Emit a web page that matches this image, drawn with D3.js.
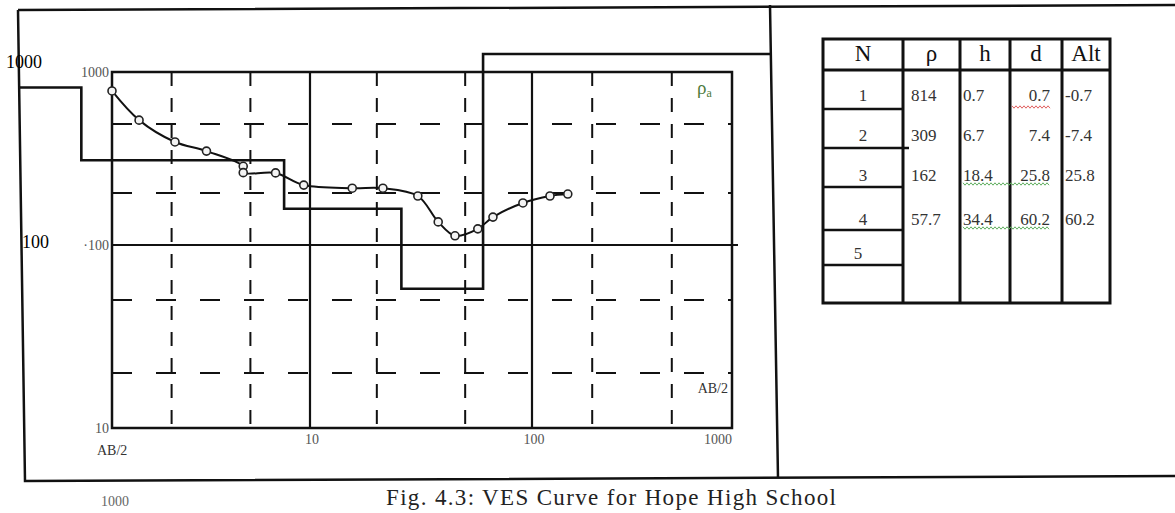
<!DOCTYPE html>
<html>
<head>
<meta charset="utf-8">
<script src="https://cdn.jsdelivr.net/npm/d3@7"></script>
<style>
  body { margin: 0; background: #fff; }
  svg { display: block; font-family: "Liberation Serif", "Times New Roman", serif; }
</style>
</head>
<body>
<svg width="1175" height="513"></svg>
<script>
const abHalf = [1.0, 1.37, 2.08, 3.0, 4.6, 4.6, 6.7, 9.3, 15.5, 21.3, 30.6, 37.8, 45, 57, 66.7, 91, 123, 151];
const rhoA   = [777, 527, 394, 349, 285, 262, 261, 222, 213, 213, 192, 136, 113, 124, 145, 175, 192, 197];

// interpreted layers (table)
const layerN   = ["1", "2", "3", "4", "5"];
const layerRho = ["814", "309", "162", "57.7"];
const layerH   = ["0.7", "6.7", "18.4", "34.4"];
const layerD   = ["0.7", "7.4", "25.8", "60.2"];
const layerAlt = ["-0.7", "-7.4", "25.8", "60.2"];
const lastRho  = 1270; // half-space, off the top of the chart

// grid
const dashX  = [2, 5, 20, 50, 200, 500];
const solidX = [10, 100];
const dashY  = [20, 50, 200, 500];
const solidY = [100];
const xTicks = [10, 100, 1000];
const yTicks = [1000, 100, 10];

const svg = d3.select("svg");

// hand-drawn decades are uneven, so piecewise log scales
const x = d3.scaleLog().domain([1, 10, 100, 1000]).range([112, 310, 532, 732]);
const y = d3.scaleLog().domain([10, 100, 1000]).range([428, 245, 72]);

const ink = "#111";

// outer figure frame and panel divider
svg.append("path")
    .attr("d", "M18,10 L1175,5 M18,10 L25,481 L1175,476 M770,5 L778,478")
    .attr("fill", "none").attr("stroke", ink).attr("stroke-width", 2.5);

const g = svg.append("g");

// dashed grid
g.selectAll(".dx").data(dashX).enter().append("line")
    .attr("x1", d => x(d)).attr("x2", d => x(d))
    .attr("y1", y(1000)).attr("y2", y(10))
    .attr("stroke", ink).attr("stroke-width", 2).attr("stroke-dasharray", "14,12");

g.selectAll(".dy").data(dashY).enter().append("line")
    .attr("x1", x(1)).attr("x2", x(1000))
    .attr("y1", d => y(d)).attr("y2", d => y(d))
    .attr("stroke", ink).attr("stroke-width", 2).attr("stroke-dasharray", "20,24");

// solid decade lines
g.selectAll(".sx").data(solidX).enter().append("line")
    .attr("x1", d => x(d)).attr("x2", d => x(d))
    .attr("y1", y(1000)).attr("y2", y(10))
    .attr("stroke", ink).attr("stroke-width", 2.2);

g.selectAll(".sy").data(solidY).enter().append("line")
    .attr("x1", x(1)).attr("x2", x(1000) + 6)
    .attr("y1", d => y(d)).attr("y2", d => y(d))
    .attr("stroke", ink).attr("stroke-width", 2.2);

// plot frame
g.append("rect")
    .attr("x", x(1)).attr("y", y(1000))
    .attr("width", x(1000) - x(1)).attr("height", y(10) - y(1000))
    .attr("fill", "none").attr("stroke", ink).attr("stroke-width", 2.5);

// layered model as a step line
const rhoNum = layerRho.map(Number).concat([lastRho]);
const depNum = layerD.map(Number);
let stepPts = [[18, y(rhoNum[0])]];
depNum.forEach((d, i) => {
    stepPts.push([x(d), y(rhoNum[i])]);
    stepPts.push([x(d), y(rhoNum[i + 1])]);
});
stepPts.push([771, y(lastRho)]);
g.append("path")
    .attr("d", d3.line()(stepPts))
    .attr("fill", "none").attr("stroke", ink).attr("stroke-width", 2.6);

// field curve
const pts = abHalf.map((a, i) => [x(a), y(rhoA[i])]);
g.append("path")
    .attr("d", d3.line().curve(d3.curveCatmullRom.alpha(0.5))(pts))
    .attr("fill", "none").attr("stroke", ink).attr("stroke-width", 2);

g.selectAll(".pt").data(pts).enter().append("circle")
    .attr("cx", d => d[0]).attr("cy", d => d[1]).attr("r", 4)
    .attr("fill", "#f4f4f4").attr("stroke", "#222").attr("stroke-width", 1.6);

// small axis labels
const tickCol = "#555";
g.selectAll(".yt").data(yTicks).enter().append("text")
    .attr("x", x(1) - 3).attr("y", d => y(d) + 5)
    .attr("text-anchor", "end").attr("font-size", 14).attr("fill", tickCol)
    .text(d => d === 100 ? "\u00b7" + d : d);

g.selectAll(".xt").data(xTicks).enter().append("text")
    .attr("x", d => d === 1000 ? x(d) - 14 : x(d) + 2).attr("y", y(10) + 16)
    .attr("text-anchor", "middle").attr("font-size", 14).attr("fill", tickCol)
    .text(d => d);

g.append("text").attr("x", x(1) - 15).attr("y", y(10) + 27)
    .attr("font-size", 14).attr("fill", "#333").text("AB/2");
g.append("text").attr("x", x(1000) - 4).attr("y", y(20) + 20)
    .attr("text-anchor", "end").attr("font-size", 14).attr("fill", "#333").text("AB/2");

const rl = g.append("text").attr("x", 697).attr("y", y(1000) + 22)
    .attr("font-size", 19).attr("fill", "#4d7a3c");
rl.append("tspan").text("\u03c1");
rl.append("tspan").attr("font-size", 12).attr("dy", 3).text("a");

// big outer labels
svg.append("text").attr("x", 6).attr("y", y(1000) - 4)
    .attr("font-size", 18).attr("fill", "#000").text("1000");
svg.append("text").attr("x", 22).attr("y", y(100) + 3)
    .attr("font-size", 18).attr("fill", "#000").text("100");
svg.append("text").attr("x", 101).attr("y", 506)
    .attr("font-size", 14).attr("fill", "#666").text("1000");

// caption
svg.append("text").attr("x", 386).attr("y", 505)
    .attr("font-size", 23).attr("fill", "#222")
    .attr("textLength", 450).attr("lengthAdjust", "spacing")
    .text("Fig. 4.3: VES Curve for Hope High School");

// ---- layer table ----
const cols = [823, 903, 960, 1010, 1062, 1110];
const tTop = 39, tHead = 70, tBot = 303;
const rowLines = [109, 148, 187, 230, 265];
const rowMid = [95, 135, 175, 219, 253];
const tab = svg.append("g").attr("stroke", ink);

tab.append("rect").attr("x", cols[0]).attr("y", tTop)
    .attr("width", cols[5] - cols[0]).attr("height", tBot - tTop)
    .attr("fill", "none").attr("stroke-width", 3);
tab.selectAll(".cl").data(cols.slice(1, 5)).enter().append("line")
    .attr("x1", d => d).attr("x2", d => d).attr("y1", tTop).attr("y2", tBot)
    .attr("stroke-width", 3);
tab.append("line").attr("x1", cols[0]).attr("x2", cols[5])
    .attr("y1", tHead).attr("y2", tHead).attr("stroke-width", 3);
tab.selectAll(".rl").data(rowLines).enter().append("line")
    .attr("x1", cols[0]).attr("x2", (d, i) => i === 1 ? cols[1] + 6 : cols[1])
    .attr("y1", d => d).attr("y2", d => d).attr("stroke-width", 2.5);

const heads = ["N", "\u03c1", "h", "d", "Alt"];
svg.selectAll(".hd").data(heads).enter().append("text")
    .attr("x", (d, i) => (cols[i] + cols[i + 1]) / 2).attr("y", 61)
    .attr("text-anchor", "middle").attr("font-size", 23).attr("fill", "#111")
    .text(d => d);

const bodyFont = 17, bodyCol = "#333";
svg.selectAll(".nn").data(layerN).enter().append("text")
    .attr("x", (d, i) => i === 4 ? 858 : 863).attr("y", (d, i) => rowMid[i] + 6)
    .attr("text-anchor", "middle").attr("font-size", bodyFont).attr("fill", bodyCol)
    .text(d => d);
svg.selectAll(".rr").data(layerRho).enter().append("text")
    .attr("x", 911).attr("y", (d, i) => rowMid[i] + 6)
    .attr("font-size", bodyFont).attr("fill", bodyCol).text(d => d);
svg.selectAll(".hh").data(layerH).enter().append("text")
    .attr("x", 963).attr("y", (d, i) => rowMid[i] + 6)
    .attr("font-size", bodyFont).attr("fill", bodyCol).text(d => d);
svg.selectAll(".dd").data(layerD).enter().append("text")
    .attr("x", 1050).attr("y", (d, i) => rowMid[i] + 6)
    .attr("text-anchor", "end").attr("font-size", bodyFont).attr("fill", bodyCol).text(d => d);
svg.selectAll(".aa").data(layerAlt).enter().append("text")
    .attr("x", 1065).attr("y", (d, i) => rowMid[i] + 6)
    .attr("font-size", bodyFont).attr("fill", bodyCol).text(d => d);

// spell-check squiggles from the source document
function wavy(x0, x1, yy) {
    let p = [];
    for (let xx = x0, k = 0; xx <= x1; xx += 2, k++) p.push([xx, yy + (k % 2 ? 1.2 : -1.2)]);
    return d3.line()(p);
}
svg.append("path").attr("d", wavy(1012, 1050, 107))
    .attr("fill", "none").attr("stroke", "#e06060").attr("stroke-width", 1);
[rowMid[2], rowMid[3]].forEach(r => {
    svg.append("path").attr("d", wavy(963, 1050, r + 9))
        .attr("fill", "none").attr("stroke", "#5fae5f").attr("stroke-width", 1);
});
</script>
</body>
</html>
